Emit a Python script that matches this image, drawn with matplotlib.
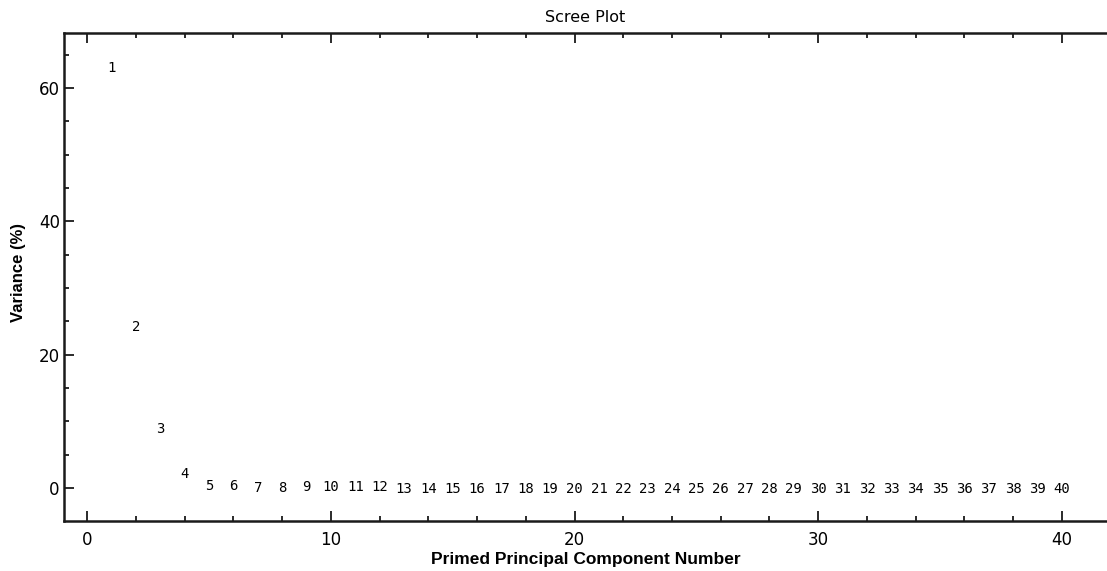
import matplotlib
matplotlib.use("Agg")
import matplotlib.pyplot as plt
from matplotlib.ticker import MultipleLocator

# variance explained per primed principal component
components = list(range(1, 41))
variance = [63.0, 24.1, 8.8, 2.1, 0.3, 0.25, 0.05, 0.05, 0.1, 0.15,
            0.15, 0.15, -0.15, -0.15, -0.1, -0.1, -0.1, -0.1, -0.1, -0.1,
            -0.1, -0.1, -0.1, -0.1, -0.1, -0.1, -0.1, -0.1, -0.1, -0.1,
            -0.1, -0.1, -0.1, -0.1, -0.1, -0.1, -0.1, -0.1, -0.1, -0.1]

W, H = 1107, 571
fig = plt.figure(figsize=(W / 100, H / 100), dpi=100)
ax = fig.add_axes([64 / W, 1 - 521 / H, (W - 64) / W, (521 - 33) / H])

for n, v in zip(components, variance):
    ax.text(n, v, str(n), ha="center", va="center",
            family="DejaVu Sans Mono", fontsize=10)

ax.set_xlim(-0.95, 41.85)
ax.set_ylim(-4.95, 68.25)

ax.xaxis.set_major_locator(MultipleLocator(10))
ax.xaxis.set_minor_locator(MultipleLocator(2))
ax.yaxis.set_major_locator(MultipleLocator(20))
ax.yaxis.set_minor_locator(MultipleLocator(5))

ax.tick_params(which="both", direction="in", top=True, right=False,
               width=1.3, colors="#1a1a1a", labelcolor="black")
ax.tick_params(which="major", length=7, labelsize=12)
ax.tick_params(which="minor", length=3.5)
ax.tick_params(axis="x", which="major", pad=7)
ax.tick_params(axis="y", which="major", pad=3)

for side in ["left", "bottom", "top"]:
    ax.spines[side].set_linewidth(1.8)
    ax.spines[side].set_color("#1a1a1a")
ax.spines["right"].set_visible(False)

ax.set_title("Scree Plot", fontsize=11.5, pad=8)
ax.set_xlabel("Primed Principal Component Number", family="Liberation Sans",
              fontweight="bold", fontsize=12.5)
ax.set_ylabel("Variance (%)", family="Liberation Sans",
              fontweight="bold", fontsize=12)
ax.xaxis.set_label_coords(0.5, -0.063)
ax.yaxis.set_label_coords(-0.036, 0.51)

fig.savefig("out.png", dpi=100)
